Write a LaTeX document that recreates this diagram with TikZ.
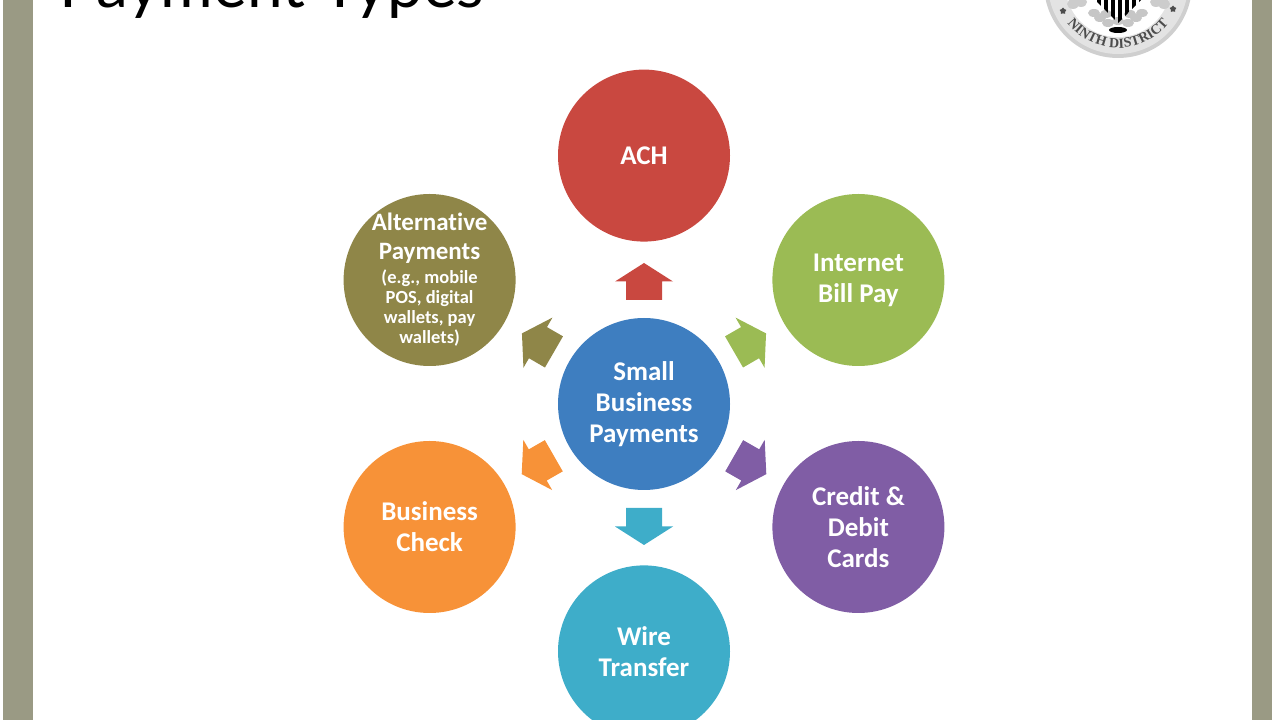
\documentclass[tikz,border=0pt]{standalone}
\usepackage{fontspec}
\setmainfont[Ligatures=NoCommon]{Carlito}
\newfontfamily\titlefont{Lato}
\newfontfamily\sealfont{Liberation Serif}
\usetikzlibrary{calc, positioning, shapes.geometric, decorations.text}
\definecolor{barcol}{RGB}{154, 154, 132}
\definecolor{achcol}{RGB}{201, 72, 64}
\definecolor{billcol}{RGB}{155, 187, 84}
\definecolor{cardcol}{RGB}{128, 93, 165}
\definecolor{wirecol}{RGB}{62, 173, 201}
\definecolor{checkcol}{RGB}{247, 146, 56}
\definecolor{altcol}{RGB}{143, 134, 72}
\definecolor{hubcol}{RGB}{62, 126, 192}
\begin{document}
\begin{tikzpicture}[
  x=1pt, y=1pt,
  node distance=76pt and 42pt,
  circ/.style={circle, minimum size=172pt, inner sep=0pt, align=center, text=white,
    font=\fontsize{27}{31}\selectfont\bfseries},
  ar/.style={fill, draw=none, to path={
    ($(\tikztostart)!104pt!(\tikztotarget)!18pt!90:(\tikztotarget)$)
    -- ($(\tikztostart)!122.5pt!(\tikztotarget)!18pt!90:(\tikztotarget)$)
    -- ($(\tikztostart)!122.5pt!(\tikztotarget)!29pt!90:(\tikztotarget)$)
    -- ($(\tikztostart)!141pt!(\tikztotarget)$)
    -- ($(\tikztostart)!122.5pt!(\tikztotarget)!29pt!-90:(\tikztotarget)$)
    -- ($(\tikztostart)!122.5pt!(\tikztotarget)!18pt!-90:(\tikztotarget)$)
    -- ($(\tikztostart)!104pt!(\tikztotarget)!18pt!-90:(\tikztotarget)$) -- cycle}},
  sealstar/.style={star, star points=5, fill=black!70, minimum size=7pt, inner sep=0pt}
]
\useasboundingbox (0,0) rectangle (1280,720);
\clip (0,0) rectangle (1280,720);
\fill[barcol] (3,0) rectangle (33,720);
\fill[barcol] (1252,0) rectangle (1272,720);
\node[anchor=base west, inner sep=0pt, font=\titlefont\fontsize{64}{64}\selectfont] (title) at (59,712) {Payment Types};

% district seal
\fill[gray!38] (1118,736) circle (74);
\fill[gray!22] (1118,736) circle (70);
\fill[white] (1118,736) circle (53);
\foreach \lx/\ly in {1100/702, 1108/697, 1106/706, 1128/697, 1136/702, 1130/706, 1118/699, 1142/707, 1094/707} {
  \fill[gray!45] (\lx,\ly) ellipse (6 and 4);
}
\foreach \lx/\ly in {1073/716, 1081/718, 1156/718, 1164/716} {
  \fill[gray!40] (\lx,\ly) ellipse (6 and 5);
}
\fill[black] (1118,690) ellipse (9 and 3);
\begin{scope}
  \clip (1095,720) -- (1141,720) -- (1118,697) -- cycle;
  \foreach \sx in {1097,1104,...,1139} {
    \fill[black] (\sx,696) rectangle ++(3.5,26);
  }
\end{scope}
\node[sealstar] (starl) at (1063,709) {};
\node[sealstar] (starr) at (1173,711) {};
\path[decorate, decoration={text along path, text align=center,
  text={|\sealfont\fontsize{14}{14}\selectfont\bfseries\color{black!70}|NINTH DISTRICT}}]
  (1118,736) ++(215:64) arc (215:325:64);

\node[circ, fill=hubcol] (hub) at (644,316) {Small\\Business\\Payments};
\node[circ, fill=achcol, above=of hub] (ach) {ACH};
\node[circ, fill=billcol, right=of hub, yshift=124pt] (bill) {Internet\\Bill Pay};
\node[circ, fill=cardcol, right=of hub, yshift=-123pt] (card) {Credit \&\\Debit\\Cards};
\node[circ, fill=wirecol, below=75pt of hub] (wire) {Wire\\Transfer};
\node[circ, fill=checkcol, left=of hub, yshift=-123pt] (check) {Business\\Check};
\node[circ, fill=altcol, left=of hub, yshift=124pt, inner sep=-12pt,
  font=\fontsize{18.5}{20}\selectfont\bfseries] (alt)
  {{\fontsize{25}{25}\selectfont Alternative}\\[9pt]{\fontsize{25}{25}\selectfont Payments}\\[4pt]
   (e.g., mobile\\POS, digital\\wallets, pay\\wallets)};

\draw[ar, achcol] (hub) to (ach);
\draw[ar, billcol] (hub) to (bill);
\draw[ar, cardcol] (hub) to (card);
\draw[ar, wirecol] (hub) to (wire);
\draw[ar, checkcol] (hub) to (check);
\draw[ar, altcol] (hub) to (alt);
\end{tikzpicture}
\end{document}
